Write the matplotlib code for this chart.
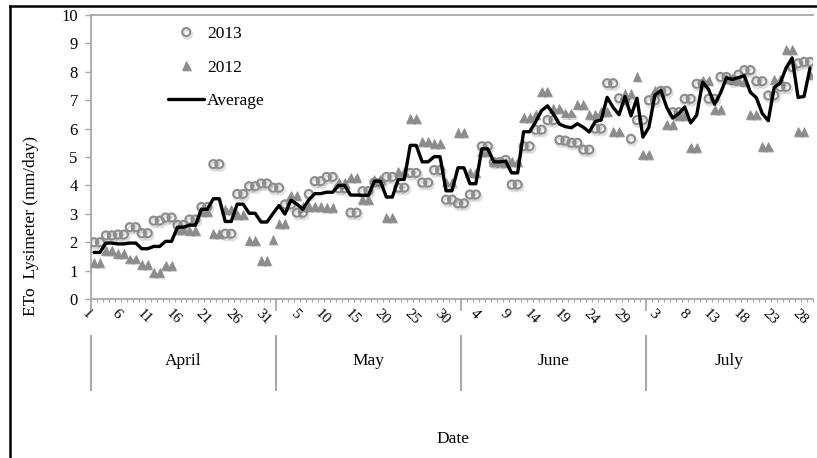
import matplotlib
matplotlib.use('Agg')
import matplotlib.pyplot as plt
from matplotlib.lines import Line2D
import matplotlib.patheffects as pe
import matplotlib.transforms as mtransforms
import numpy as np

plt.rcParams['font.family'] = ['Liberation Serif', 'DejaVu Serif']

# ---------------- data ----------------
months = ['April', 'May', 'June', 'July']
month_days = [31, 31, 31, 28]
day_labels = [d for m in month_days for d in range(1, m + 1)]
label_step = 5

eto_2013 = [2.00, 2.00, 2.24, 2.24, 2.27, 2.27, 2.53, 2.53, 2.32, 2.32,
            2.76, 2.76, 2.87, 2.87, 2.61, 2.61, 2.80, 2.80, 3.24, 3.24,
            4.75, 4.75, 2.30, 2.30, 3.70, 3.70, 3.97, 3.97, 4.07, 4.07,
            3.92, 3.92, 3.33, 3.33, 3.04, 3.04, 3.70, 4.15, 4.15, 4.30,
            4.30, 3.90, 3.90, 3.04, 3.04, 3.80, 3.80, 4.10, 4.10, 4.30,
            4.30, 3.92, 3.92, 4.44, 4.44, 4.10, 4.10, 4.54, 4.54, 3.50,
            3.50, 3.37, 3.37, 3.68, 3.68, 5.38, 5.38, 4.82, 4.82, 4.90,
            4.03, 4.03, 5.38, 5.38, 5.96, 5.96, 6.30, 6.30, 5.60, 5.58,
            5.50, 5.50, 5.26, 5.26, 6.00, 6.00, 7.60, 7.60, 7.07, 7.00,
            5.64, 6.30, 6.30, 7.00, 7.00, 7.33, 7.33, 6.58, 6.58, 7.05,
            7.05, 7.58, 7.58, 7.05, 7.05, 7.82, 7.82, 7.70, 7.90, 8.06,
            8.06, 7.67, 7.67, 7.17, 7.17, 7.47, 7.47, 8.17, 8.30, 8.35,
            8.35]

eto_2012 = [1.27, 1.27, 1.70, 1.70, 1.60, 1.60, 1.41, 1.41, 1.21, 1.21,
            0.94, 0.94, 1.18, 1.18, 2.45, 2.45, 2.40, 2.40, 3.08, 3.08,
            2.30, 2.30, 3.15, 3.15, 2.98, 2.98, 2.06, 2.06, 1.35, 1.35,
            2.10, 2.65, 2.65, 3.63, 3.63, 3.27, 3.27, 3.27, 3.27, 3.22,
            3.22, 4.10, 4.10, 4.27, 4.27, 3.50, 3.50, 4.20, 4.20, 2.87,
            2.87, 4.50, 4.50, 6.37, 6.37, 5.55, 5.55, 5.47, 5.47, 4.12,
            4.12, 5.87, 5.87, 4.44, 4.44, 5.20, 5.20, 4.83, 4.83, 4.80,
            4.85, 4.85, 6.40, 6.40, 6.50, 7.30, 7.30, 6.72, 6.72, 6.55,
            6.55, 6.84, 6.84, 6.50, 6.50, 6.60, 6.60, 5.90, 5.90, 7.25,
            7.25, 7.84, 5.09, 5.09, 7.35, 7.35, 6.15, 6.15, 6.47, 6.47,
            5.35, 5.35, 7.70, 7.70, 6.67, 6.67, 7.75, 7.75, 7.70, 7.66,
            6.50, 6.50, 5.38, 5.38, 7.72, 7.72, 8.80, 8.80, 5.90, 5.90,
            7.90]

eto_avg = [1.64, 1.64, 1.97, 1.97, 1.94, 1.94, 1.97, 1.97, 1.77, 1.77,
           1.85, 1.85, 2.03, 2.03, 2.53, 2.53, 2.60, 2.60, 3.16, 3.16,
           3.53, 3.53, 2.73, 2.73, 3.34, 3.34, 3.02, 3.02, 2.71, 2.71,
           3.01, 3.29, 2.99, 3.48, 3.34, 3.16, 3.49, 3.71, 3.71, 3.76,
           3.76, 4.00, 4.00, 3.66, 3.66, 3.65, 3.65, 4.15, 4.15, 3.59,
           3.59, 4.21, 4.21, 5.41, 5.41, 4.83, 4.83, 5.01, 5.01, 3.81,
           3.81, 4.62, 4.62, 4.06, 4.06, 5.29, 5.29, 4.83, 4.83, 4.85,
           4.44, 4.44, 5.89, 5.89, 6.23, 6.63, 6.80, 6.51, 6.16, 6.07,
           6.03, 6.17, 6.05, 5.88, 6.25, 6.30, 7.10, 6.75, 6.49, 7.13,
           6.45, 7.07, 5.70, 6.05, 7.18, 7.34, 6.74, 6.37, 6.53, 6.76,
           6.20, 6.47, 7.64, 7.38, 6.86, 7.25, 7.79, 7.73, 7.80, 7.86,
           7.28, 7.09, 6.53, 6.28, 7.45, 7.60, 8.14, 8.49, 7.10, 7.13,
           8.13]

# ---------------- figure ----------------
W, H = 817, 458
fig = plt.figure(figsize=(W / 100, H / 100), dpi=100)


def fx(px):
    return px / W


def fy(py):
    return 1 - py / H


ax_left, ax_right, ax_top, ax_bot = 91, 813, 15, 299
ax = fig.add_axes([fx(ax_left), fy(ax_bot), fx(ax_right) - fx(ax_left), fy(ax_top) - fy(ax_bot)])
ax_h = ax_bot - ax_top

n = len(day_labels)
x = np.arange(n)
gray = '#8c8c8c'
axis_gray = '#a8a8a8'

circ_shadow = [pe.SimpleLineShadow(offset=(0.8, -1.5), shadow_color='k', alpha=0.12, linewidth=2.5), pe.Normal()]
tri_shadow = [pe.SimplePatchShadow(offset=(0.8, -1.5), shadow_rgbFace='k', alpha=0.15), pe.Normal()]

h13, = ax.plot(x, eto_2013, linestyle='none', marker='o', ms=5.8, mfc='none', mec=gray, mew=1.5,
               zorder=3, path_effects=circ_shadow)
h12, = ax.plot(x, eto_2012, linestyle='none', marker='^', ms=6.4, mfc=gray, mec=gray, mew=0.5,
               zorder=3, path_effects=tri_shadow)
hav, = ax.plot(x, eto_avg, color='black', lw=2.4, solid_joinstyle='round', solid_capstyle='round', zorder=4)

ax.set_xlim(-0.5, n - 0.5)
ax.set_ylim(0, 10)
ax.set_yticks(range(0, 11))

major_idx = x[::label_step]
ax.set_xticks(major_idx)
ax.set_xticklabels([str(day_labels[i]) for i in major_idx])
ax.set_xticks(np.arange(-0.5, n, 1.0), minor=True)

ax.tick_params(axis='x', which='major', length=0, pad=6, labelsize=11, labelrotation=-45)
ax.tick_params(axis='x', which='minor', length=2.5, width=0.8, color=axis_gray, direction='out')
ax.tick_params(axis='y', which='major', length=4.5, width=1.0, color=axis_gray, pad=5, labelsize=12)
for lab in ax.get_xticklabels():
    lab.set_ha('right')

for s in ['left', 'bottom', 'top']:
    ax.spines[s].set_color(axis_gray)
    ax.spines[s].set_linewidth(1.3)
ax.spines['right'].set_visible(False)

# month groups
trans = mtransforms.blended_transform_factory(ax.transData, ax.transAxes)
bounds = np.cumsum([0] + month_days) - 0.5
for b in bounds[:-1]:
    ax.plot([b, b], [0, -11 / ax_h], transform=trans, color=axis_gray, lw=1.3, clip_on=False)
    ax.plot([b, b], [-(336 - ax_bot) / ax_h, -(390 - ax_bot) / ax_h], transform=trans,
            color=axis_gray, lw=1.5, clip_on=False)
for i, name in enumerate(months):
    c = (bounds[i] + bounds[i + 1]) / 2
    ax.text(c, -(361 - ax_bot) / ax_h, name, transform=trans, ha='center', va='center', fontsize=12.5)

fig.text(fx(453), fy(439), 'Date', ha='center', va='center', fontsize=12.5)
fig.text(fx(31), fy(226), 'ETo  Lysimeter (mm/day)', rotation=90, ha='center', va='center', fontsize=12.5)

ax.legend(handles=[h13, h12, hav], labels=['2013', '2012', 'Average'], loc='upper left',
          bbox_to_anchor=(fx(168), fy(26)), bbox_transform=fig.transFigure, frameon=False,
          fontsize=12.5, handlelength=2.1, handletextpad=0.15, labelspacing=1.0,
          borderpad=0, borderaxespad=0, numpoints=1)

# outer frame
fig.add_artist(Line2D([fx(10), fx(10)], [fy(6), -0.02], color='black', lw=1.8, transform=fig.transFigure))
fig.add_artist(Line2D([fx(10), 1.02], [fy(6), fy(6)], color='black', lw=1.8, transform=fig.transFigure))

fig.savefig('out.png', dpi=100)
